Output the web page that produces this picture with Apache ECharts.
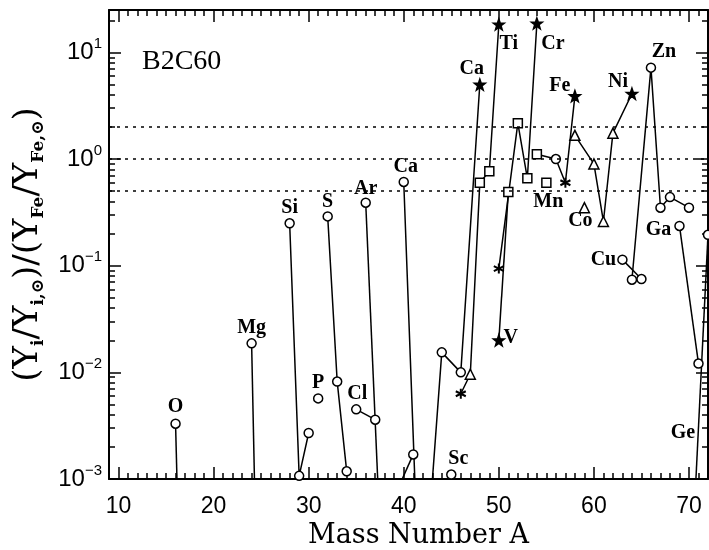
<!DOCTYPE html>
<html>
<head>
<meta charset="utf-8">
<script src="https://cdn.jsdelivr.net/npm/echarts@6/dist/echarts.min.js"></script>
<style>
  html, body { margin: 0; padding: 0; background: #fff; }
  #chart { width: 709px; height: 550px; }
</style>
</head>
<body>
<div id="chart"></div>
<script>
// [mass number A, (Y_i/Y_i,sun)/(Y_Fe/Y_Fe,sun)] per element
var O  = [[16, 0.0033], [17, 0.000001]];
var Mg = [[24, 0.0187], [25, 0.000001]];
var Si = [[28, 0.25], [29, 0.00107], [30, 0.0027]];
var P  = [[31, 0.0057]];
var S  = [[32, 0.29], [33, 0.0082], [34, 0.00118]];
var Cl = [[35, 0.0045], [37, 0.0036]];
var Ar = [[36, 0.39], [38, 0.00003]];
var K  = [[39, 0.00068], [41, 0.0017]];
var Ca = [[40, 0.61], [42, 0.00001], [43, 0.00095], [44, 0.0154], [46, 0.0100], [48, 5.0]];
var Sc = [[45, 0.0011]];
var Ti = [[46, 0.0063], [47, 0.0096], [48, 0.60], [49, 0.77], [50, 18.3]];
var V  = [[50, 0.020], [51, 0.49]];
var Cr = [[50, 0.094], [52, 2.17], [53, 0.66], [54, 18.7]];
var Mn = [[55, 0.60]];
var Fe = [[54, 1.11], [56, 1.0], [57, 0.60], [58, 3.9]];
var Co = [[59, 0.35]];
var Ni = [[58, 1.67], [60, 0.90], [61, 0.26], [62, 1.75], [64, 4.1]];
var Cu = [[63, 0.114], [65, 0.075]];
var Zn = [[64, 0.074], [66, 7.2], [67, 0.35], [68, 0.44], [70, 0.35]];
var Ga = [[69, 0.236], [71, 0.0121]];
var Ge = [[70, 0.000048], [72, 0.195]];

var refLevels = [2, 1, 0.5];

var elements = [
  ['O', O], ['Mg', Mg], ['Si', Si], ['P', P], ['S', S], ['Cl', Cl], ['Ar', Ar],
  ['K', K], ['Ca', Ca], ['Sc', Sc], ['Ti', Ti], ['V', V], ['Cr', Cr], ['Mn', Mn],
  ['Fe', Fe], ['Co', Co], ['Ni', Ni], ['Cu', Cu], ['Zn', Zn], ['Ga', Ga], ['Ge', Ge]
];

// marker per isotope: c circle, s square, t triangle, * star, x asterisk
var marks = {
  O: 'cc', Mg: 'cc', Si: 'ccc', P: 'c', S: 'ccc', Cl: 'cc', Ar: 'cc', K: 'cc',
  Ca: 'ccccc*', Sc: 'c', Ti: 'xtss*', V: '*s', Cr: 'xss*', Mn: 's',
  Fe: 'scx*', Co: 't', Ni: 'tttt*', Cu: 'cc', Zn: 'ccccc', Ga: 'cc', Ge: 'cc'
};

// element name placed next to one isotope: [element, A, offset]
var nameSpots = [
  ['O', 16, [0, -17]], ['Mg', 24, [0, -16]], ['Si', 28, [0, -15]], ['P', 31, [0, -16]],
  ['S', 32, [0, -15]], ['Cl', 35, [1, -16]], ['Ar', 36, [0, -14]], ['Ca', 40, [2, -15]],
  ['Sc', 45, [7, -16]], ['Ca', 48, [-8, -16]], ['Ti', 50, [10, 19]], ['Cr', 54, [16, 20]],
  ['V', 50, [12, -2]], ['Fe', 58, [-15, -10]], ['Mn', 55, [2, 19]], ['Co', 59, [-4, 13]],
  ['Ni', 64, [-14, -12]], ['Zn', 66, [13, -16]], ['Cu', 63, [-19, 0]], ['Ga', 69, [-21, 4]],
  ['Ge', 72, [-25, 198]]
];

var STAR = 'path://M0,-10L2.35,-3.24L9.51,-3.09L3.8,1.24L5.88,8.09L0,4L-5.88,8.09L-3.8,1.24L-9.51,-3.09L-2.35,-3.24Z';
var ASTER = 'path://M0,-10L0,10M-8.66,-5L8.66,5M-8.66,5L8.66,-5';

function markStyle(m) {
  if (m === 's') return { symbol: 'rect', symbolSize: 9 };
  if (m === 't') return { symbol: 'triangle', symbolSize: 10 };
  if (m === '*') return { symbol: STAR, symbolSize: 11, itemStyle: { color: '#000' } };
  if (m === 'x') return { symbol: ASTER, symbolSize: 10, itemStyle: { color: '#000', borderWidth: 2 } };
  return { symbol: 'circle', symbolSize: 9 };
}

var labelFont = { fontFamily: 'Liberation Serif', fontWeight: 'bold', fontSize: 20, color: '#000' };

var series = elements.map(function (el, k) {
  var name = el[0];
  var data = el[1].map(function (p, i) {
    var item = Object.assign({ value: p }, markStyle(marks[name][i]));
    nameSpots.forEach(function (s) {
      if (s[0] === name && s[1] === p[0]) {
        item.label = Object.assign({ show: true, position: 'inside', formatter: name, offset: s[2] }, labelFont);
      }
    });
    return item;
  });
  var s = {
    name: name,
    type: 'line',
    data: data,
    showAllSymbol: true,
    clip: true,
    lineStyle: { color: '#000', width: 1.5 },
    itemStyle: { color: '#fff', borderColor: '#000', borderWidth: 1.5 },
    label: { show: false },
    emphasis: { disabled: true }
  };
  if (k === 0) {
    s.markLine = {
      silent: true,
      symbol: 'none',
      label: { show: false },
      lineStyle: { color: '#000', width: 1.5, type: [3, 5] },
      data: refLevels.map(function (v) { return { yAxis: v }; })
    };
  }
  return s;
});

function powLabel(v) {
  var e = Math.round(Math.log10(v));
  if (Math.abs(v / Math.pow(10, e) - 1) > 1e-6) return '';
  return '{b|10}{e|' + (e < 0 ? '\u2212' + (-e) : e) + '}';
}

var frame = { lineStyle: { color: '#000', width: 2 } };
var majorTick = { inside: true, length: 12, lineStyle: { color: '#000', width: 1.5 } };
var xMinor = { show: true, splitNumber: 10, length: 6, lineStyle: { color: '#000', width: 1.5 } };
var yMinor = { show: true, splitNumber: 9, length: 6, lineStyle: { color: '#000', width: 1.5 } };

var chart = echarts.init(document.getElementById('chart'), null, { renderer: 'canvas' });
chart.setOption({
  animation: false,
  backgroundColor: '#fff',
  title: {
    text: 'B2C60',
    left: 142, top: 48, padding: 0,
    textStyle: { fontFamily: 'Liberation Serif', fontWeight: 'normal', fontSize: 28, color: '#000' }
  },
  grid: { left: 109, right: 1, top: 10, bottom: 71, containLabel: false, outerBoundsMode: 'none' },
  xAxis: [{
    type: 'value', min: 9, max: 72, splitNumber: 6,
    axisLine: frame, axisTick: majorTick, minorTick: xMinor,
    splitLine: { show: false },
    axisLabel: {
      showMinLabel: false, showMaxLabel: false, margin: 16,
      color: '#000', fontSize: 23, fontFamily: 'Liberation Sans'
    },
    name: 'Mass Number A', nameLocation: 'middle', nameGap: 40,
    nameTextStyle: { fontFamily: 'DejaVu Serif', fontSize: 27, color: '#000', padding: [0, 0, 0, 20] }
  }, {
    type: 'value', position: 'top', min: 9, max: 72, splitNumber: 6,
    axisLine: frame, axisTick: majorTick, minorTick: xMinor,
    splitLine: { show: false }, axisLabel: { show: false }
  }],
  yAxis: [{
    type: 'log', logBase: 10, min: 0.001, max: 25,
    axisLine: frame, axisTick: majorTick, minorTick: yMinor,
    splitLine: { show: false },
    axisLabel: {
      showMaxLabel: false, margin: 7, formatter: powLabel,
      rich: {
        b: { fontFamily: 'Liberation Sans', fontSize: 24, color: '#000', lineHeight: 32 },
        e: { fontFamily: 'Liberation Sans', fontSize: 15, color: '#000', lineHeight: 16, verticalAlign: 'top' }
      }
    },
    name: '{m|(Y}{s|i}{m|/Y}{s|i,\u2299}{m|)/(Y}{s|Fe}{m|/Y}{s|Fe,\u2299}{m|)}',
    nameLocation: 'middle', nameRotate: 90, nameGap: 55,
    nameTextStyle: {
      rich: {
        m: { fontFamily: 'DejaVu Serif', fontSize: 34, color: '#000', lineHeight: 38 },
        s: { fontFamily: 'DejaVu Serif', fontWeight: 'bold', fontSize: 17, color: '#000', lineHeight: 17, verticalAlign: 'bottom' }
      }
    }
  }, {
    type: 'log', logBase: 10, position: 'right', min: 0.001, max: 25,
    axisLine: frame, axisTick: majorTick, minorTick: yMinor,
    splitLine: { show: false }, axisLabel: { show: false }
  }],
  series: series
});
</script>
</body>
</html>
